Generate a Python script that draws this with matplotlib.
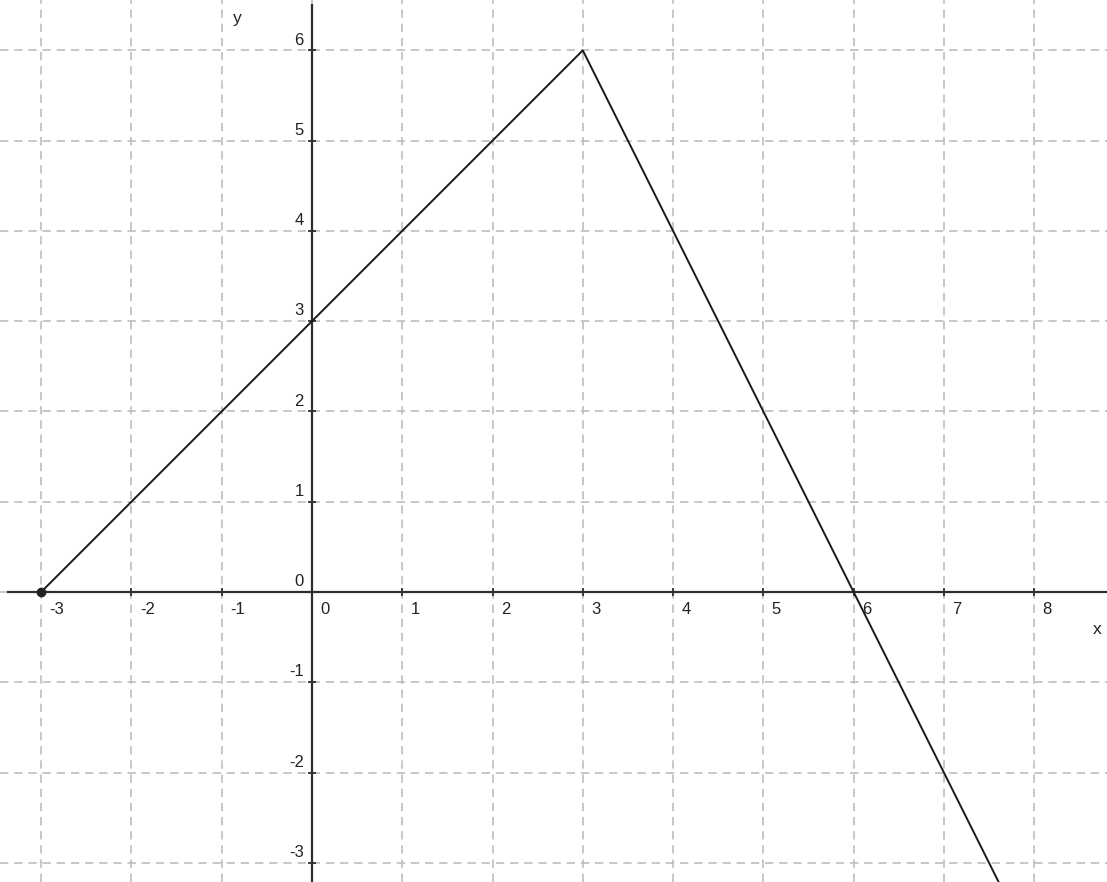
import matplotlib
matplotlib.use('Agg')
import matplotlib.pyplot as plt
import numpy as np

# --- Data ---
x_vals = [-3, 3, 9]
y_vals = [0, 6, -6]
start_point = (-3, 0)
x_ticks = [-3, -2, -1, 0, 1, 2, 3, 4, 5, 6, 7, 8]
y_ticks = [-3, -2, -1, 0, 1, 2, 3, 4, 5, 6]

plt.rcParams['font.family'] = ['Liberation Sans', 'DejaVu Sans']

dpi = 100
fig = plt.figure(figsize=(11.07, 8.82), dpi=dpi)
ax = fig.add_axes([0, 0, 1, 1])

ax.set_xlim(-3.456, 8.807)
ax.set_ylim(-3.213, 6.558)

# grid
grid_style = dict(color='#bdbdbd', lw=1.2, dashes=(5, 3.5), zorder=1)
for xv in x_ticks:
    ax.axvline(xv, **grid_style)
for yv in y_ticks:
    ax.axhline(yv, **grid_style)

# axes
for s in ['top', 'right']:
    ax.spines[s].set_visible(False)
ax.spines['left'].set_position(('data', 0))
ax.spines['bottom'].set_position(('data', 0))
ax.spines['left'].set_bounds(-3.213, 6.5)
ax.spines['bottom'].set_bounds(-3.37, 8.807)
for s in ['left', 'bottom']:
    ax.spines[s].set_color('#2e2e2e')
    ax.spines[s].set_linewidth(1.6)
    ax.spines[s].set_zorder(3)

ax.set_xticks([t for t in x_ticks if t != 0])
ax.set_yticks([t for t in y_ticks if t != 0])
ax.set_xticklabels([])
ax.set_yticklabels([])
ax.tick_params(direction='inout', length=6, width=1.3, color='#2e2e2e')

# tick labels placed like GeoGebra
for xv in x_ticks:
    ax.annotate(str(xv), (xv, 0), xytext=(6, -7), textcoords='offset points',
                ha='left', va='top', fontsize=12, color='#222222')
for yv in y_ticks:
    ax.annotate(str(yv), (0, yv), xytext=(-6, 2), textcoords='offset points',
                ha='right', va='bottom', fontsize=12, color='#222222')

ax.annotate('x', (8.807, 0), xytext=(-7, -27), textcoords='offset points',
            ha='center', va='center', fontsize=12.5, color='#222222')
ax.annotate('y', (0, 6.558), xytext=(-54, -13), textcoords='offset points',
            ha='center', va='center', fontsize=12.5, color='#222222')

# function graph
ax.plot(x_vals, y_vals, color='#1a1a1a', lw=1.4, zorder=4)
ax.plot([start_point[0]], [start_point[1]], 'o', color='#222222', markersize=6, zorder=5)

plt.savefig('out.png', dpi=dpi)
